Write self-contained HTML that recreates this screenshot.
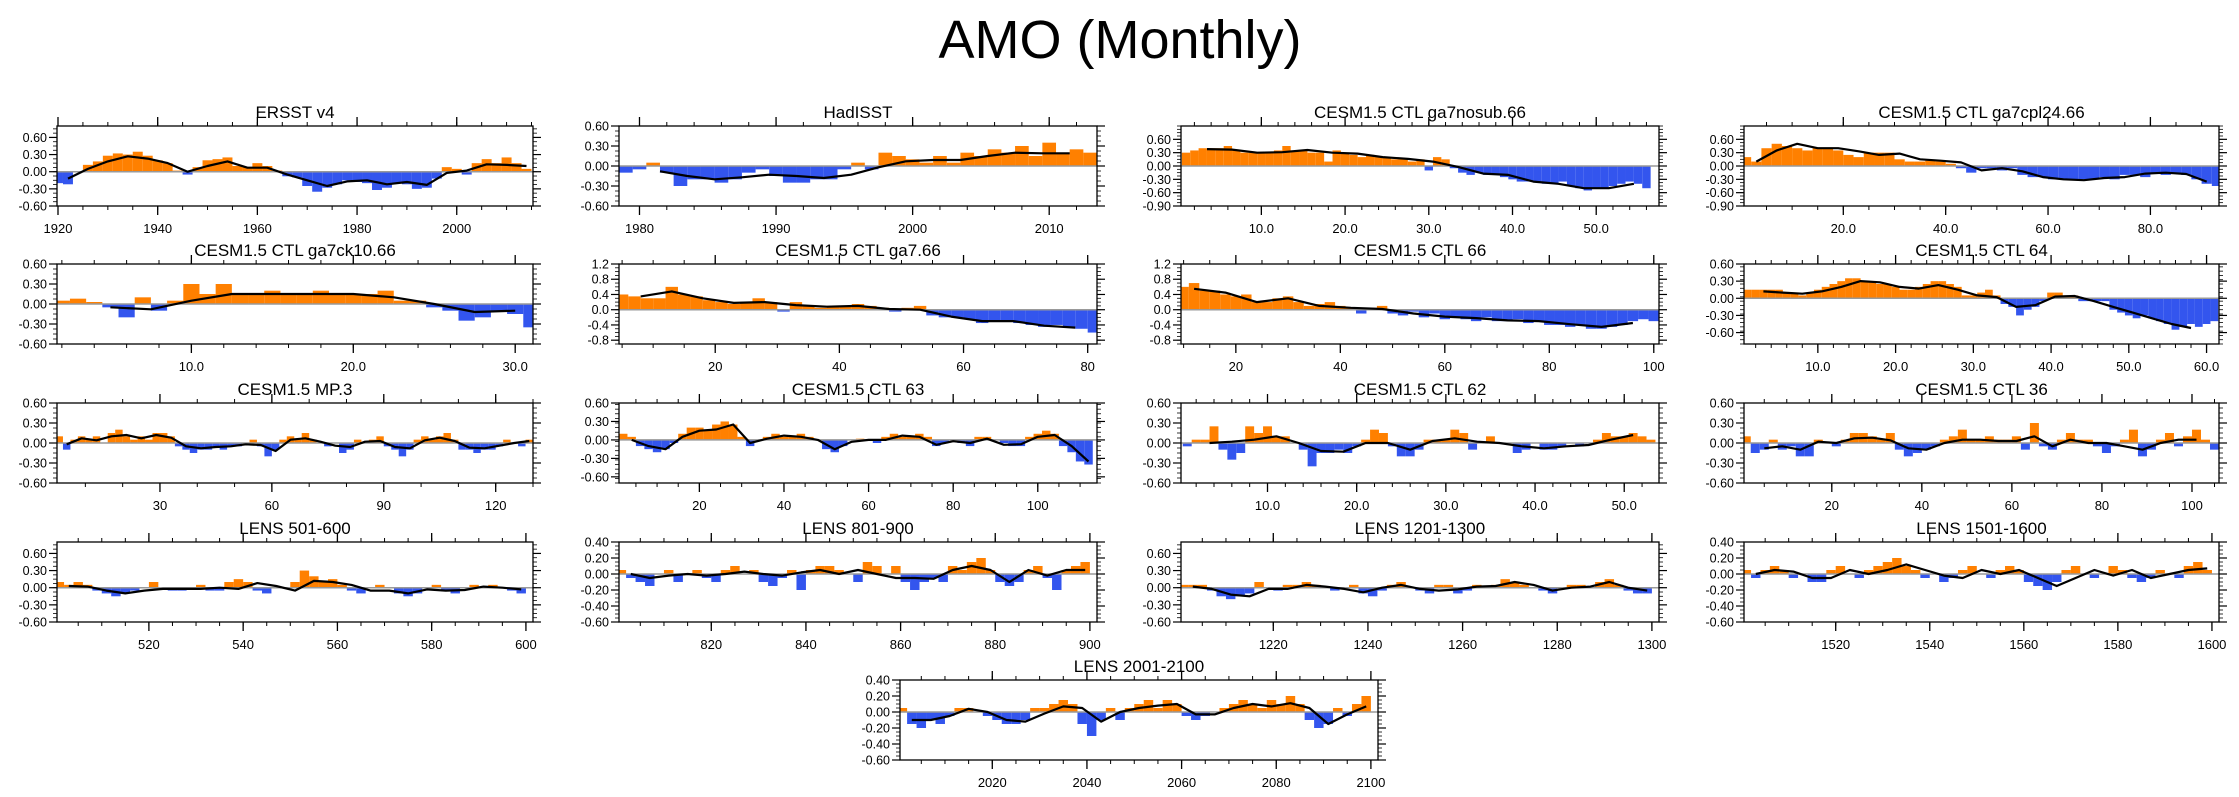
<!DOCTYPE html>
<html><head><meta charset="utf-8"><style>
html,body{margin:0;padding:0;background:#fff;width:2239px;height:797px;overflow:hidden}
svg{display:block;font-family:"Liberation Sans",Arial,sans-serif}
</style></head><body>
<svg id="chart" width="2239" height="797" viewBox="0 0 2239 797" xmlns="http://www.w3.org/2000/svg">
<text x="1120" y="58" font-size="54" text-anchor="middle" fill="#000">AMO (Monthly)</text>
</svg>
<script>
// ---------- data arrays ----------
const bars_ersst = [-0.2,-0.22,0.0,0.12,0.18,0.28,0.32,0.3,0.35,0.28,0.2,0.15,0.02,-0.05,0.08,0.2,0.22,0.25,0.1,0.08,0.15,0.1,0.02,-0.08,-0.1,-0.25,-0.35,-0.28,-0.22,-0.15,-0.18,-0.2,-0.32,-0.28,-0.2,-0.22,-0.3,-0.28,-0.12,0.08,0.05,-0.05,0.15,0.22,0.15,0.25,0.15,0.05];
const smooth_ersst = [-0.12,0.05,0.18,0.27,0.23,0.15,0.0,0.1,0.18,0.07,0.07,-0.05,-0.15,-0.25,-0.17,-0.15,-0.22,-0.18,-0.23,-0.02,0.02,0.13,0.12,0.1];
const bars_had = [-0.1,-0.05,0.05,-0.1,-0.3,-0.2,-0.2,-0.25,-0.2,-0.1,-0.05,-0.15,-0.25,-0.25,-0.2,-0.2,-0.05,0.05,-0.05,0.2,0.15,0.1,0.05,0.15,0.05,0.2,0.15,0.25,0.2,0.3,0.15,0.35,0.2,0.25,0.2];
const smooth_had = [-0.08,-0.15,-0.2,-0.17,-0.13,-0.15,-0.18,-0.13,-0.02,0.07,0.09,0.09,0.15,0.2,0.19,0.19];
const bars_nosub = [0.3,0.35,0.4,0.4,0.4,0.45,0.35,0.3,0.3,0.3,0.3,0.35,0.45,0.35,0.35,0.3,0.3,0.1,0.35,0.3,0.25,0.2,0.25,0.2,0.2,0.15,0.15,0.1,0.15,-0.1,0.2,0.15,-0.05,-0.15,-0.2,-0.15,-0.2,-0.2,-0.25,-0.3,-0.35,-0.35,-0.35,-0.4,-0.4,-0.35,-0.45,-0.5,-0.55,-0.5,-0.5,-0.45,-0.4,-0.35,-0.4,-0.5];
const smooth_nosub = [0.38,0.37,0.3,0.31,0.36,0.3,0.28,0.2,0.16,0.1,-0.02,-0.17,-0.2,-0.35,-0.4,-0.5,-0.5,-0.4];
const bars_cpl24 = [0.2,0.1,0.4,0.5,0.45,0.4,0.35,0.4,0.4,0.35,0.25,0.2,0.3,0.3,0.3,0.15,0.1,0.1,0.12,0.1,0.05,-0.05,-0.15,-0.05,-0.05,-0.1,-0.05,-0.2,-0.25,-0.25,-0.3,-0.3,-0.3,-0.3,-0.3,-0.25,-0.3,-0.2,-0.2,-0.25,-0.15,-0.2,-0.15,-0.2,-0.3,-0.4,-0.45];
const smooth_cpl24 = [0.1,0.35,0.5,0.4,0.4,0.33,0.25,0.28,0.15,0.12,0.08,-0.1,-0.05,-0.12,-0.25,-0.3,-0.32,-0.27,-0.25,-0.17,-0.15,-0.18,-0.35];
const bars_ck10 = [0.05,0.08,0.03,-0.05,-0.2,0.1,-0.1,0.05,0.3,0.15,0.3,0.15,0.15,0.2,0.15,0.15,0.2,0.15,0.15,0.15,0.2,0.05,0.05,-0.05,-0.1,-0.25,-0.2,-0.1,-0.15,-0.35];
const smooth_ck10 = [-0.05,-0.08,0.05,0.15,0.15,0.15,0.15,0.1,0.0,-0.12,-0.1];
const bars_ga7 = [0.4,0.35,0.3,0.3,0.6,0.4,0.35,0.25,0.2,0.15,0.2,0.3,0.2,-0.05,0.2,0.1,0.05,0.1,0.1,0.15,0.1,0.05,-0.05,0.05,0.1,-0.15,-0.2,-0.2,-0.25,-0.35,-0.3,-0.3,-0.35,-0.4,-0.45,-0.4,-0.45,-0.5,-0.6];
const smooth_ga7 = [0.35,0.48,0.3,0.18,0.2,0.12,0.08,0.1,0.02,0.0,-0.18,-0.3,-0.3,-0.42,-0.47];
const bars_c66 = [0.6,0.7,0.5,0.5,0.4,0.35,0.4,0.2,0.2,0.3,0.35,0.2,0.1,0.15,0.2,0.1,0.05,-0.1,0.05,0.1,-0.1,-0.15,-0.05,-0.2,-0.1,-0.25,-0.2,-0.25,-0.3,-0.2,-0.3,-0.3,-0.25,-0.35,-0.3,-0.4,-0.4,-0.45,-0.4,-0.5,-0.5,-0.45,-0.4,-0.3,-0.25,-0.3];
const smooth_c66 = [0.55,0.45,0.2,0.3,0.1,0.05,0.02,-0.1,-0.18,-0.22,-0.28,-0.3,-0.38,-0.45,-0.35];
const bars_c64 = [0.15,0.15,0.15,0.15,0.15,0.1,0.1,0.05,0.1,0.15,0.2,0.25,0.3,0.35,0.35,0.3,0.3,0.25,0.25,0.2,0.15,0.15,0.2,0.25,0.3,0.3,0.25,0.2,0.05,0.05,0.1,0.15,0.05,-0.1,-0.15,-0.3,-0.2,-0.15,-0.05,0.1,0.1,0.05,0.05,-0.05,-0.05,-0.05,-0.05,-0.2,-0.25,-0.3,-0.35,-0.3,-0.35,-0.4,-0.45,-0.55,-0.5,-0.45,-0.5,-0.45,-0.4];
const smooth_c64 = [0.12,0.1,0.08,0.12,0.2,0.3,0.28,0.2,0.17,0.23,0.15,0.05,0.02,-0.15,-0.12,0.03,0.04,-0.05,-0.15,-0.25,-0.35,-0.45,-0.52];
const bars_mp3 = [0.1,-0.1,0.05,0.1,0.05,0.1,0.0,0.15,0.2,0.1,0.05,0.1,0.05,0.15,0.15,0.1,-0.05,-0.1,-0.15,-0.1,-0.1,-0.05,-0.1,-0.05,-0.05,0.0,0.05,-0.05,-0.2,-0.1,0.05,0.1,0.05,0.15,0.05,0.0,-0.05,0.0,-0.15,-0.1,0.05,0.0,0.05,0.1,-0.05,-0.1,-0.2,-0.1,0.05,0.1,0.05,0.1,0.15,0.05,-0.1,-0.1,-0.15,-0.1,-0.1,-0.05,0.05,0.0,-0.05,0.05,0.1];
const smooth_mp3 = [-0.02,0.07,0.04,0.1,0.12,0.07,0.12,0.08,-0.05,-0.08,-0.06,-0.05,-0.02,-0.03,-0.12,0.05,0.07,0.02,-0.04,-0.06,0.02,0.03,-0.06,-0.08,0.04,0.08,0.03,-0.07,-0.08,-0.04,0.0,0.03];
const bars_c63 = [0.1,0.05,-0.1,-0.15,-0.2,-0.15,-0.05,0.1,0.2,0.2,0.15,0.25,0.3,0.25,0.05,-0.1,0.0,0.05,0.1,0.05,0.05,0.1,0.05,0.0,-0.15,-0.2,-0.1,0.0,0.02,0.0,-0.05,0.05,0.1,0.05,0.05,0.1,0.05,-0.1,-0.05,0.0,-0.05,-0.1,0.05,0.05,0.0,-0.05,-0.1,-0.1,0.05,0.1,0.15,0.1,-0.1,-0.2,-0.35,-0.4];
const smooth_c63 = [0.0,-0.1,-0.15,0.05,0.15,0.17,0.25,-0.05,0.02,0.07,0.05,0.0,-0.15,-0.03,0.0,0.0,0.07,0.05,-0.08,-0.02,-0.05,0.02,-0.08,-0.07,0.05,0.08,-0.1,-0.35];
const bars_c62 = [-0.05,0.05,0.05,0.25,-0.1,-0.25,-0.15,0.25,0.15,0.25,0.1,0.1,0.0,-0.1,-0.35,-0.15,-0.15,-0.1,-0.15,-0.05,0.05,0.2,0.15,-0.05,-0.2,-0.2,-0.1,0.05,0.05,0.05,0.2,0.15,-0.1,0.0,0.1,0.0,0.0,-0.15,-0.1,0.0,-0.1,-0.1,-0.05,0.0,-0.05,0.0,0.05,0.15,0.1,0.1,0.15,0.1,0.05];
const smooth_c62 = [0.0,0.02,0.05,0.1,0.0,-0.12,-0.13,0.0,0.0,-0.1,0.03,0.07,0.02,0.0,-0.05,-0.08,-0.05,-0.03,0.05,0.12];
const bars_c36 = [0.1,-0.15,-0.1,0.05,-0.1,-0.05,-0.2,-0.2,0.05,0.0,-0.05,0.05,0.15,0.15,0.1,0.05,0.15,-0.1,-0.2,-0.15,-0.1,-0.05,0.05,0.1,0.2,0.05,0.05,0.1,0.05,0.05,0.1,-0.1,0.3,-0.05,-0.1,0.05,0.15,0.05,0.05,-0.05,-0.15,-0.05,0.05,0.2,-0.2,-0.1,0.05,0.15,-0.05,0.1,0.2,0.05,-0.1];
const smooth_c36 = [-0.08,-0.05,-0.1,0.02,0.0,0.07,0.08,0.04,-0.08,-0.1,0.0,0.05,0.05,0.03,0.03,0.1,-0.05,0.05,0.0,0.0,-0.05,-0.1,0.0,0.05,0.05];
const bars_l501 = [0.1,0.05,0.1,0.05,-0.05,-0.1,-0.15,-0.1,-0.05,0.0,0.1,0.0,-0.05,-0.05,0.0,0.05,-0.05,-0.05,0.1,0.15,0.1,-0.05,-0.1,0.0,0.0,0.1,0.3,0.2,0.1,0.15,0.05,-0.05,-0.1,0.0,0.05,0.0,-0.1,-0.15,-0.1,0.0,0.05,-0.05,-0.1,0.0,0.05,0.0,0.05,0.0,-0.05,-0.1];
const smooth_l501 = [0.03,0.02,-0.05,-0.1,-0.05,-0.02,-0.02,-0.02,0.0,-0.02,0.08,0.03,-0.05,0.12,0.1,0.05,-0.05,-0.05,-0.1,-0.03,-0.05,-0.04,0.02,0.0,-0.03];
const bars_l801 = [0.05,-0.05,-0.1,-0.15,0.0,0.05,-0.1,0.0,0.05,-0.05,-0.1,0.05,0.1,0.0,0.05,-0.1,-0.15,-0.05,0.05,-0.2,0.05,0.1,0.1,0.05,0.0,-0.1,0.15,0.1,0.0,0.1,-0.1,-0.2,-0.1,-0.05,-0.1,0.1,0.05,0.15,0.2,0.05,-0.1,-0.15,-0.1,0.05,0.1,-0.05,-0.2,0.05,0.1,0.15];
const smooth_l801 = [0.0,-0.05,-0.02,0.0,-0.02,0.0,0.03,0.0,-0.02,0.02,0.05,0.0,0.05,0.0,-0.05,-0.05,-0.06,0.05,0.1,0.05,-0.1,0.05,-0.02,0.05,0.05];
const bars_l1201 = [0.05,0.05,0.05,-0.05,-0.15,-0.2,-0.15,-0.1,0.1,0.0,-0.05,0.05,0.05,0.1,0.05,0.0,-0.05,0.0,0.05,-0.1,-0.15,-0.05,0.05,0.1,0.0,-0.05,-0.1,0.05,0.05,-0.1,-0.05,0.05,0.0,0.05,0.15,0.1,0.05,0.0,-0.05,-0.1,0.0,0.05,0.05,0.0,0.1,0.15,0.05,-0.05,-0.1,-0.1];
const smooth_l1201 = [0.02,-0.02,-0.12,-0.15,-0.02,-0.02,0.05,0.02,-0.02,-0.08,0.0,0.05,-0.02,-0.05,-0.03,0.02,0.03,0.1,0.05,-0.05,0.0,0.02,0.1,0.0,-0.05];
const bars_l1501 = [0.05,-0.05,0.05,0.1,0.05,-0.05,0.0,-0.1,-0.1,0.05,0.1,0.0,-0.05,0.05,0.1,0.15,0.2,0.1,0.05,-0.05,0.0,-0.1,-0.05,0.05,0.1,0.0,-0.05,0.05,0.1,0.05,-0.1,-0.15,-0.2,-0.1,0.05,0.1,0.0,-0.05,0.0,0.1,0.05,-0.05,-0.1,-0.05,0.05,0.0,-0.05,0.1,0.15,0.05];
const smooth_l1501 = [0.0,0.05,0.03,-0.05,-0.05,0.05,0.0,0.05,0.12,0.05,-0.02,-0.05,0.05,0.0,0.05,-0.05,-0.15,-0.05,0.05,-0.02,0.05,-0.05,0.0,0.05,0.07];
const bars_l2001 = [0.05,-0.15,-0.2,-0.1,-0.15,-0.05,0.05,0.05,0.0,-0.05,-0.1,-0.15,-0.15,-0.1,0.05,0.05,0.1,0.15,0.1,-0.15,-0.3,-0.1,0.05,-0.1,0.05,0.1,0.15,0.05,0.15,0.1,-0.05,-0.1,-0.05,0.0,0.05,0.1,0.15,0.1,0.05,0.15,0.1,0.2,0.1,-0.1,-0.2,-0.15,0.05,-0.05,0.1,0.2];
const smooth_l2001 = [-0.1,-0.1,-0.05,0.04,0.0,-0.1,-0.12,-0.02,0.07,0.05,-0.12,0.0,0.05,0.08,0.1,-0.03,-0.03,0.05,0.1,0.07,0.11,0.05,-0.15,-0.03,0.07];

// ---------- panel configs (data x-coords + layout) ----------
const ROWS=[126,264,403,542,680], H=80;
const COLS=[[57,533],[619,1097],[1181,1659],[1744,2219],[900,1378]];
const panels=[
 {name:'ersst',title:'ERSST v4',r:0,c:0,x0:1919.8,x1:2015.3,y0:-0.6,y1:0.8,yt:[-0.6,-0.3,0,0.3,0.6],yd:2,xt:[1920,1940,1960,1980,2000],xd:0,minor:5,b:bars_ersst,bs:1920,bst:2,s:smooth_ersst,ss:1922,sst:4},
 {name:'hadisst',title:'HadISST',r:0,c:1,x0:1978.5,x1:2013.5,y0:-0.6,y1:0.6,yt:[-0.6,-0.3,0,0.3,0.6],yd:2,xt:[1980,1990,2000,2010],xd:0,minor:2,b:bars_had,bs:1979,bst:1,s:smooth_had,ss:1981.5,sst:2},
 {name:'ga7nosub',title:'CESM1.5 CTL ga7nosub.66',r:0,c:2,x0:0.4,x1:57.5,y0:-0.9,y1:0.9,yt:[-0.9,-0.6,-0.3,0,0.3,0.6],yd:2,xt:[10,20,30,40,50],xd:1,minor:2,b:bars_nosub,bs:1,bst:1,s:smooth_nosub,ss:3.5,sst:3},
 {name:'ga7cpl24',title:'CESM1.5 CTL ga7cpl24.66',r:0,c:3,x0:0.6,x1:93.4,y0:-0.9,y1:0.9,yt:[-0.9,-0.6,-0.3,0,0.3,0.6],yd:2,xt:[20,40,60,80],xd:1,minor:5,b:bars_cpl24,bs:1,bst:2,s:smooth_cpl24,ss:3,sst:4},
 {name:'ga7ck10',title:'CESM1.5 CTL ga7ck10.66',r:1,c:0,x0:1.7,x1:31.1,y0:-0.6,y1:0.6,yt:[-0.6,-0.3,0,0.3,0.6],yd:2,xt:[10,20,30],xd:1,minor:2,b:bars_ck10,bs:2,bst:1,s:smooth_ck10,ss:5,sst:2.5},
 {name:'ga7',title:'CESM1.5 CTL ga7.66',r:1,c:1,x0:4.5,x1:81.5,y0:-0.9,y1:1.2,yt:[-0.8,-0.4,0,0.4,0.8,1.2],yd:1,xt:[20,40,60,80],xd:0,minor:5,b:bars_ga7,bs:5,bst:2,s:smooth_ga7,ss:8,sst:5},
 {name:'ctl66',title:'CESM1.5 CTL 66',r:1,c:2,x0:9.5,x1:101,y0:-0.9,y1:1.2,yt:[-0.8,-0.4,0,0.4,0.8,1.2],yd:1,xt:[20,40,60,80,100],xd:0,minor:5,b:bars_c66,bs:10,bst:2,s:smooth_c66,ss:12,sst:6},
 {name:'ctl64',title:'CESM1.5 CTL 64',r:1,c:3,x0:0.5,x1:61.6,y0:-0.8,y1:0.6,yt:[-0.6,-0.3,0,0.3,0.6],yd:2,xt:[10,20,30,40,50,60],xd:1,minor:2,b:bars_c64,bs:1,bst:1,s:smooth_c64,ss:3,sst:2.5},
 {name:'mp3',title:'CESM1.5 MP.3',r:2,c:0,x0:2.4,x1:130,y0:-0.6,y1:0.6,yt:[-0.6,-0.3,0,0.3,0.6],yd:2,xt:[30,60,90,120],xd:0,minor:10,b:bars_mp3,bs:3,bst:2,s:smooth_mp3,ss:5,sst:4},
 {name:'ctl63',title:'CESM1.5 CTL 63',r:2,c:1,x0:1,x1:114,y0:-0.7,y1:0.6,yt:[-0.6,-0.3,0,0.3,0.6],yd:2,xt:[20,40,60,80,100],xd:0,minor:5,b:bars_c63,bs:2,bst:2,s:smooth_c63,ss:4,sst:4},
 {name:'ctl62',title:'CESM1.5 CTL 62',r:2,c:2,x0:0.3,x1:53.9,y0:-0.6,y1:0.6,yt:[-0.6,-0.3,0,0.3,0.6],yd:2,xt:[10,20,30,40,50],xd:1,minor:2,b:bars_c62,bs:1,bst:1,s:smooth_c62,ss:3.5,sst:2.5},
 {name:'ctl36',title:'CESM1.5 CTL 36',r:2,c:3,x0:0.5,x1:106,y0:-0.6,y1:0.6,yt:[-0.6,-0.3,0,0.3,0.6],yd:2,xt:[20,40,60,80,100],xd:0,minor:5,b:bars_c36,bs:1,bst:2,s:smooth_c36,ss:5,sst:4},
 {name:'lens501',title:'LENS 501-600',r:3,c:0,x0:500.5,x1:601.5,y0:-0.6,y1:0.8,yt:[-0.6,-0.3,0,0.3,0.6],yd:2,xt:[520,540,560,580,600],xd:0,minor:5,b:bars_l501,bs:501,bst:2,s:smooth_l501,ss:503,sst:4},
 {name:'lens801',title:'LENS 801-900',r:3,c:1,x0:800.5,x1:901.5,y0:-0.6,y1:0.4,yt:[-0.6,-0.4,-0.2,0,0.2,0.4],yd:2,xt:[820,840,860,880,900],xd:0,minor:5,b:bars_l801,bs:801,bst:2,s:smooth_l801,ss:803,sst:4},
 {name:'lens1201',title:'LENS 1201-1300',r:3,c:2,x0:1200.5,x1:1301.5,y0:-0.6,y1:0.8,yt:[-0.6,-0.3,0,0.3,0.6],yd:2,xt:[1220,1240,1260,1280,1300],xd:0,minor:5,b:bars_l1201,bs:1201,bst:2,s:smooth_l1201,ss:1203,sst:4},
 {name:'lens1501',title:'LENS 1501-1600',r:3,c:3,x0:1500.5,x1:1601.5,y0:-0.6,y1:0.4,yt:[-0.6,-0.4,-0.2,0,0.2,0.4],yd:2,xt:[1520,1540,1560,1580,1600],xd:0,minor:5,b:bars_l1501,bs:1501,bst:2,s:smooth_l1501,ss:1503,sst:4},
 {name:'lens2001',title:'LENS 2001-2100',r:4,c:4,x0:2000.5,x1:2101.5,y0:-0.6,y1:0.4,yt:[-0.6,-0.4,-0.2,0,0.2,0.4],yd:2,xt:[2020,2040,2060,2080,2100],xd:0,minor:5,b:bars_l2001,bs:2001,bst:2,s:smooth_l2001,ss:2003,sst:4}
];

const NS='http://www.w3.org/2000/svg';
const svg=document.getElementById('chart');
function mk(tag,attrs,parent){const e=document.createElementNS(NS,tag);for(const k in attrs)e.setAttribute(k,attrs[k]);(parent||svg).appendChild(e);return e;}

panels.forEach(p=>{
  const L=COLS[p.c][0],R=COLS[p.c][1],T=ROWS[p.r],B=T+H;
  const xs=v=>L+(v-p.x0)/(p.x1-p.x0)*(R-L);
  const ys=v=>B-(v-p.y0)/(p.y1-p.y0)*(B-T);
  const g=mk('g',{});
  
  
  const t=mk('text',{x:(L+R)/2,y:T-8,'font-size':17,'text-anchor':'middle',fill:'#000'},g);
  t.textContent=p.title;
  
  
  const y0=ys(0);
  // bars
  p.b.forEach((v,i)=>{
    const xc=p.bs+i*p.bst;
    const xa=Math.max(L,xs(xc-p.bst/2)), xb=Math.min(R,xs(xc+p.bst/2));
    const yv=ys(v);
    const r=mk('rect',{x:xa,y:Math.min(yv,y0),width:Math.max(0.5,xb-xa),height:Math.abs(yv-y0),fill:v>=0?'#ff8000':'#3355ee'},g);
    
    
  });
  // zero line
  const zl=mk('line',{x1:L,x2:R,y1:y0,y2:y0,stroke:'#999','stroke-width':1.5},g);
  
  
  // smooth line
  const pts=p.s.map((v,i)=>xs(p.ss+i*p.sst).toFixed(1)+','+ys(v).toFixed(1)).join(' ');
  const pl=mk('polyline',{points:pts,fill:'none',stroke:'#000','stroke-width':2.2,'stroke-linejoin':'round'},g);
  
  
  // frame
  const fr=mk('rect',{x:L,y:T,width:R-L,height:H,fill:'none',stroke:'#000','stroke-width':1.3},g);
  
  
  // x minor ticks
  for(let v=Math.ceil(p.x0/p.minor)*p.minor; v<=p.x1; v+=p.minor){
    const x=xs(v);
    mk('line',{x1:x,x2:x,y1:B,y2:B+4,stroke:'#000','stroke-width':1},g);
    mk('line',{x1:x,x2:x,y1:T,y2:T-4,stroke:'#000','stroke-width':1},g);
  }
  // x major ticks + labels
  p.xt.forEach(v=>{
    const x=xs(v);
    mk('line',{x1:x,x2:x,y1:B,y2:B+9,stroke:'#000','stroke-width':1.3},g);
    mk('line',{x1:x,x2:x,y1:T,y2:T-9,stroke:'#000','stroke-width':1.3},g);
    const lb=mk('text',{x:x,y:B+27,'font-size':13,'text-anchor':'middle',fill:'#000'},g);
    lb.textContent=v.toFixed(p.xd);
    
    
  });
  // y ticks
  const ystep=p.yt[1]-p.yt[0], ym=ystep/4;
  for(let v=p.y0; v<=p.y1+1e-9; v+=ym){
    const y=ys(v);
    mk('line',{x1:L,x2:L-4,y1:y,y2:y,stroke:'#000','stroke-width':0.8},g);
    mk('line',{x1:R,x2:R+4,y1:y,y2:y,stroke:'#000','stroke-width':0.8},g);
  }
  p.yt.forEach(v=>{
    const y=ys(v);
    mk('line',{x1:L,x2:L-8,y1:y,y2:y,stroke:'#000','stroke-width':1.2},g);
    mk('line',{x1:R,x2:R+8,y1:y,y2:y,stroke:'#000','stroke-width':1.2},g);
    const lb=mk('text',{x:L-10,y:y+4.5,'font-size':12.5,'text-anchor':'end',fill:'#000'},g);
    lb.textContent=(Math.abs(v)<1e-9?0:v).toFixed(p.yd);
    
    
  });
});
</script>
</body></html>
